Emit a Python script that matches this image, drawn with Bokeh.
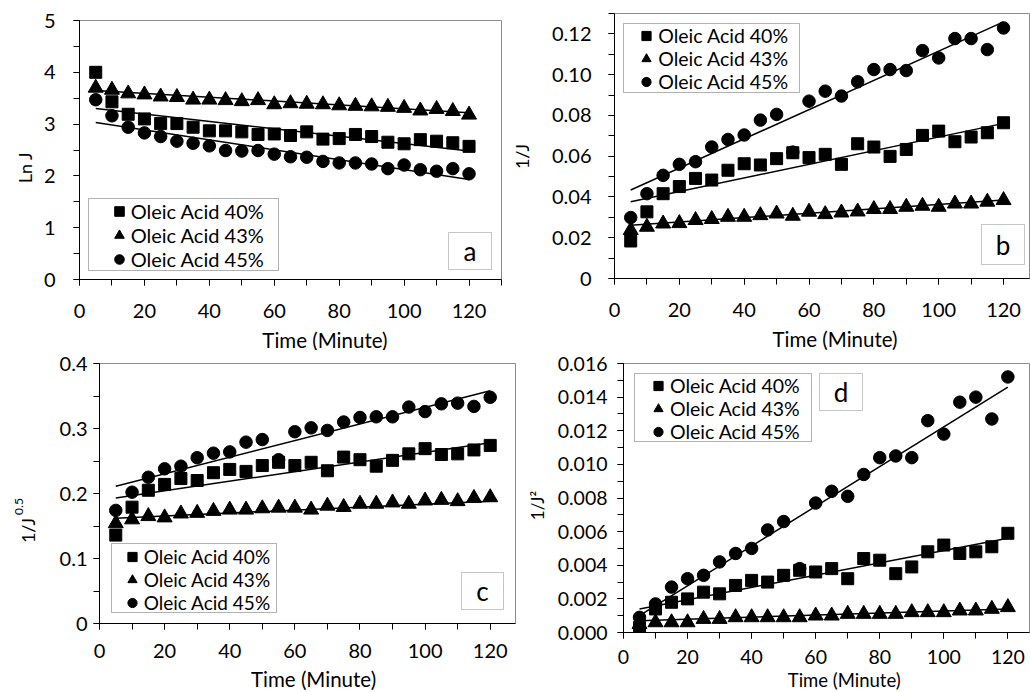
import numpy as np
from math import pi
from bokeh.plotting import figure
from bokeh.layouts import column, row
from bokeh.models import Range1d, FixedTicker, Legend, LegendItem, Label, BoxAnnotation
from bokeh.embed import file_html
from bokeh.resources import INLINE

FONT = "Lato"

# ---------------- data ----------------
time_min = [5, 10, 15, 20, 25, 30, 35, 40, 45, 50, 55, 60,
            65, 70, 75, 80, 85, 90, 95, 100, 105, 110, 115, 120]
series_labels = ["Oleic Acid 40%", "Oleic Acid 43%", "Oleic Acid 45%"]

# panel a : Ln J
lnJ_40 = [4.00, 3.43, 3.19, 3.10, 3.01, 3.01, 2.94, 2.87, 2.87, 2.85, 2.80, 2.81,
          2.78, 2.85, 2.71, 2.72, 2.80, 2.76, 2.65, 2.62, 2.70, 2.67, 2.64, 2.57]
lnJ_43 = [3.70, 3.66, 3.59, 3.57, 3.53, 3.52, 3.47, 3.47, 3.46, 3.44, 3.46, 3.38,
          3.40, 3.39, 3.38, 3.36, 3.35, 3.34, 3.33, 3.31, 3.26, 3.29, 3.25, 3.18]
lnJ_45 = [3.47, 3.16, 2.94, 2.83, 2.76, 2.67, 2.63, 2.58, 2.49, 2.48, 2.49, 2.42,
          2.37, 2.36, 2.28, 2.25, 2.25, 2.23, 2.14, 2.21, 2.12, 2.09, 2.14, 2.04]
lnJ_trend = {"40": [3.30, 2.48], "43": [3.65, 3.22], "45": [3.03, 1.93]}

# panel b : 1/J
invJ_40 = [0.0184, 0.0327, 0.0416, 0.0451, 0.0491, 0.0483, 0.0531, 0.0563, 0.0557, 0.0588, 0.0617, 0.0593,
           0.0609, 0.0560, 0.0661, 0.0645, 0.0599, 0.0633, 0.0702, 0.0723, 0.0671, 0.0694, 0.0715, 0.0764]
invJ_43 = [0.0237, 0.0253, 0.0269, 0.0271, 0.0286, 0.0291, 0.0302, 0.0302, 0.0310, 0.0318, 0.0307, 0.0327,
           0.0315, 0.0323, 0.0328, 0.0340, 0.0340, 0.0351, 0.0356, 0.0351, 0.0367, 0.0367, 0.0376, 0.0384]
invJ_45 = [0.0299, 0.0416, 0.0506, 0.0560, 0.0573, 0.0645, 0.0682, 0.0704, 0.0777, 0.0805, 0.0620, 0.0870,
           0.0919, 0.0895, 0.0965, 0.1025, 0.1025, 0.1020, 0.1118, 0.1082, 0.1177, 0.1177, 0.1123, 0.1229]
invJ_trend = {"40": [0.0376, 0.0761], "43": [0.0261, 0.0385], "45": [0.0434, 0.1259]}

# panel c : 1/J^0.5
invSqrtJ_40 = [0.136, 0.179, 0.205, 0.214, 0.223, 0.220, 0.232, 0.237, 0.234, 0.243, 0.248, 0.243,
               0.248, 0.235, 0.256, 0.252, 0.242, 0.251, 0.261, 0.269, 0.260, 0.261, 0.267, 0.274]
invSqrtJ_43 = [0.154, 0.160, 0.165, 0.163, 0.169, 0.170, 0.173, 0.175, 0.175, 0.177, 0.178, 0.178,
               0.175, 0.181, 0.179, 0.184, 0.184, 0.186, 0.184, 0.189, 0.190, 0.188, 0.193, 0.194]
invSqrtJ_45 = [0.174, 0.202, 0.225, 0.238, 0.242, 0.255, 0.262, 0.264, 0.279, 0.283, 0.252, 0.295,
               0.301, 0.297, 0.310, 0.317, 0.318, 0.318, 0.333, 0.326, 0.338, 0.339, 0.334, 0.348]
invSqrtJ_trend = {"40": [0.193, 0.278], "43": [0.162, 0.188], "45": [0.211, 0.358]}

# panel d : 1/J^2
invJ2_40 = [0.0003, 0.0014, 0.0018, 0.0020, 0.0024, 0.0023, 0.0028, 0.0031, 0.0030, 0.0034, 0.0037, 0.0036,
            0.0038, 0.0032, 0.0044, 0.0043, 0.0035, 0.0039, 0.0048, 0.0052, 0.0047, 0.0048, 0.0051, 0.0059]
invJ2_43 = [0.0005, 0.0006, 0.0006, 0.0006, 0.0008, 0.0008, 0.0009, 0.0009, 0.0009, 0.0009, 0.0009, 0.0010,
            0.0010, 0.0011, 0.0011, 0.0011, 0.0011, 0.0012, 0.0012, 0.0012, 0.0013, 0.0013, 0.0014, 0.0015]
invJ2_45 = [0.0009, 0.0017, 0.0027, 0.0032, 0.0034, 0.0042, 0.0047, 0.0050, 0.0061, 0.0066, 0.0038, 0.0077,
            0.0084, 0.0081, 0.0094, 0.0104, 0.0105, 0.0104, 0.0126, 0.0118, 0.0137, 0.0140, 0.0127, 0.0152]
invJ2_trend = {"40": [0.0014, 0.0056], "43": [0.0007, 0.0014], "45": [0.0010, 0.0146]}

trend_x = [5, 120]

# tick labels
x_ticks = [0, 20, 40, 60, 80, 100, 120]
x_tick_labels = ["0", "20", "40", "60", "80", "100", "120"]
x_minor_ticks = [0, 10, 20, 30, 40, 50, 60, 70, 80, 90, 100, 110, 120, 130]

a_y_ticks = [0, 1, 2, 3, 4, 5]
a_y_labels = ["0", "1", "2", "3", "4", "5"]
b_y_ticks = [0, 0.02, 0.04, 0.06, 0.08, 0.10, 0.12]
b_y_labels = ["0", "0.02", "0.04", "0.06", "0.08", "0.10", "0.12"]
c_y_ticks = [0, 0.1, 0.2, 0.3, 0.4]
c_y_labels = ["0", "0.1", "0.2", "0.3", "0.4"]
d_y_ticks = [0, 0.002, 0.004, 0.006, 0.008, 0.010, 0.012, 0.014, 0.016]
d_y_labels = ["0.000", "0.002", "0.004", "0.006", "0.008", "0.010", "0.012", "0.014", "0.016"]

x_title = "Time (Minute)"

# ---------------- layout (page pixel geometry) ----------------
ROW1_H = 350
ROW2_H = 692 - ROW1_H

panels = [
    dict(key="a", ox=40, oy=0, W=462, H=327, FL=79, FT=20, FW=422, FH=259, xend=130, yend=5,
         yminor_step=0.5, yt=a_y_ticks, yl=a_y_labels,
         series=[lnJ_40, lnJ_43, lnJ_45], trend=lnJ_trend,
         ystand=18, xstand=18, tick_fs="20px",
         leg=dict(box=(88, 278, 198, 270), m=30.7, row1=211, gh=24, fs="20px"),
         box=(448, 491, 232, 269), boxtxt=(469.5, 250)),
    dict(key="b", ox=535, oy=0, W=495, H=327, FL=614, FT=13, FW=415, FH=265, xend=415 / 3.242, yend=0.13,
         yminor_step=0.01, yt=b_y_ticks, yl=b_y_labels,
         series=[invJ_40, invJ_43, invJ_45], trend=invJ_trend,
         ystand=17, xstand=18, tick_fs="20px",
         leg=dict(box=(623, 799, 23, 92), m=23.3, row1=35, gh=23, fs="19.5px"),
         box=(981, 1024, 224, 264), boxtxt=(1002.5, 244)),
    dict(key="c", ox=40, oy=ROW1_H, W=480, H=316, FL=99, FT=363, FW=416, FH=260, xend=416 / 3.256, yend=0.4,
         yminor_step=0.05, yt=c_y_ticks, yl=c_y_labels,
         series=[invSqrtJ_40, invSqrtJ_43, invSqrtJ_45], trend=invSqrtJ_trend,
         ystand=6, xstand=14, tick_fs="20px",
         leg=dict(box=(111, 276, 543, 612), m=20.7, row1=556, gh=23, fs="19px"),
         box=(461, 503, 572, 609), boxtxt=(482, 590)),
    dict(key="d", ox=550, oy=ROW1_H, W=480, H=320, FL=623, FT=363, FW=406, FH=269, xend=406 / 3.203, yend=0.016,
         yminor_step=0.001, yt=d_y_ticks, yl=d_y_labels,
         series=[invJ2_40, invJ2_43, invJ2_45], trend=invJ2_trend,
         ystand=10, xstand=11, tick_fs="19.5px",
         leg=dict(box=(634, 811, 373, 441), m=24, row1=385, gh=23, fs="19.5px"),
         box=(819, 862, 373, 410), boxtxt=(840.5, 391)),
]

# text strips: (text, page x, page y, font size, angle)
ytitle_strips = [
    dict(ox=0, oy=0, W=40, H=ROW1_H, texts=[("Ln J", 24.5, 167, "18px", pi / 2)]),
    dict(ox=502, oy=0, W=33, H=ROW1_H, texts=[("1/J", 521, 156, "18px", pi / 2)]),
    dict(ox=0, oy=ROW1_H, W=40, H=ROW2_H, texts=[("1/J", 27, 530, "18px", pi / 2),
                                                 ("0.5", 18.5, 506, "12px", pi / 2)]),
    dict(ox=520, oy=ROW1_H, W=30, H=ROW2_H, texts=[("1/J\u00b2", 537, 505, "17px", pi / 2)]),
]
xtitle_strips = [
    dict(ox=40, oy=327, W=462, H=23, texts=[(x_title, 308.7, 339, "20.5px", 0)]),
    dict(ox=535, oy=327, W=495, H=23, texts=[(x_title, 798, 338, "20.5px", 0)]),
    dict(ox=40, oy=666, W=480, H=26, texts=[(x_title, 287, 678, "20.5px", 0)]),
    dict(ox=550, oy=670, W=480, H=22, texts=[(x_title, 811, 679.5, "18.5px", 0)]),
]

markers = ["square", "triangle", "circle"]
msizes = [12, 15, 12.5]
draw_order = [2, 1, 0]
LEG_GW = 24


def make_strip(s):
    f = figure(width=s["W"], height=s["H"], output_backend="svg", toolbar_location=None,
               x_range=Range1d(0, s["W"]), y_range=Range1d(0, s["H"]),
               min_border=0, x_axis_location=None, y_axis_location=None,
               outline_line_color=None, background_fill_color="white", border_fill_color="white")
    f.grid.visible = False
    for txt, px, py, fs, ang in s["texts"]:
        f.add_layout(Label(x=px - s["ox"], y=s["H"] - (py - s["oy"]), text=txt, angle=ang,
                           text_align="center", text_baseline="middle",
                           text_font=FONT, text_font_size=fs, text_color="black"))
    return f


def make_panel(c):
    left = c["FL"] - c["ox"]
    top = c["FT"] - c["oy"]
    right = c["W"] - left - c["FW"]
    bottom = c["H"] - top - c["FH"]
    p = figure(width=c["W"], height=c["H"], output_backend="svg", toolbar_location=None,
               x_range=Range1d(0, c["xend"]), y_range=Range1d(0, c["yend"]),
               min_border_left=left, min_border_right=right,
               min_border_top=top, min_border_bottom=bottom,
               background_fill_color="white", border_fill_color="white",
               outline_line_color="#8c8c8c", outline_line_width=1)
    p.xgrid.visible = False
    p.ygrid.visible = False
    frame_bottom = c["FT"] + c["FH"]

    def px2d(px, py):
        return ((px - c["FL"]) * c["xend"] / c["FW"],
                (frame_bottom - py) * c["yend"] / c["FH"])

    yminor = list(np.arange(0, c["yend"] + 1e-12, c["yminor_step"]))
    p.xaxis.ticker = FixedTicker(ticks=x_ticks, minor_ticks=x_minor_ticks)
    p.yaxis.ticker = FixedTicker(ticks=c["yt"], minor_ticks=yminor)
    p.xaxis.major_label_overrides = {v: s for v, s in zip(x_ticks, x_tick_labels)}
    p.yaxis.major_label_overrides = {v: s for v, s in zip(c["yt"], c["yl"])}
    for ax in (p.xaxis[0], p.yaxis[0]):
        ax.axis_line_color = "black"
        ax.axis_line_width = 1
        ax.major_tick_line_color = "black"
        ax.minor_tick_line_color = "black"
        ax.major_tick_in = 0
        ax.major_tick_out = 6
        ax.minor_tick_in = 0
        ax.minor_tick_out = 6
        ax.major_label_text_font = FONT
        ax.major_label_text_font_size = c["tick_fs"]
        ax.major_label_text_color = "black"
    p.xaxis.major_label_standoff = c["xstand"]
    p.yaxis.major_label_standoff = c["ystand"]

    rends = [None, None, None]
    for i in draw_order:
        rends[i] = p.scatter(time_min, c["series"][i], marker=markers[i], size=msizes[i],
                             fill_color="black", line_color="black")
    for k in ["40", "43", "45"]:
        p.line(trend_x, c["trend"][k], line_color="black", line_width=1.5)

    # legend (border drawn separately so its inner spacing can match)
    lg = c["leg"]
    bl, br, bt, bb = lg["box"]
    leg_left = bl + lg["m"] - LEG_GW / 2
    leg_top = lg["row1"] - lg["gh"] / 2
    leg_bottom = leg_top + 3 * lg["gh"]
    legend = Legend(items=[LegendItem(label=series_labels[i], renderers=[rends[i]]) for i in range(3)],
                    location=(leg_left - c["FL"], frame_bottom - leg_bottom),
                    margin=0, padding=0, spacing=0,
                    glyph_width=LEG_GW, glyph_height=lg["gh"], label_height=lg["gh"],
                    label_standoff=0,
                    label_text_font=FONT, label_text_font_size=lg["fs"], label_text_color="black",
                    border_line_alpha=0, background_fill_alpha=0)
    p.add_layout(legend, "center")
    x0, y0 = px2d(bl, bb)
    x1, y1 = px2d(br, bt)
    p.add_layout(BoxAnnotation(left=x0, right=x1, bottom=y0, top=y1,
                               fill_alpha=0, line_color="black", line_width=1))

    # panel letter box
    bx0, by0 = px2d(c["box"][0], c["box"][3])
    bx1, by1 = px2d(c["box"][1], c["box"][2])
    p.add_layout(BoxAnnotation(left=bx0, right=bx1, bottom=by0, top=by1,
                               fill_alpha=0, line_color="#404040", line_width=1))
    tx, ty = px2d(*c["boxtxt"])
    p.add_layout(Label(x=tx, y=ty, text=c["key"], text_align="center", text_baseline="middle",
                       text_font=FONT, text_font_size="26px", text_color="black"))
    return p


figs = [make_panel(c) for c in panels]
ys = [make_strip(s) for s in ytitle_strips]
xs = [make_strip(s) for s in xtitle_strips]
layout = column(row(ys[0], column(figs[0], xs[0]), ys[1], column(figs[1], xs[1])),
                row(ys[2], column(figs[2], xs[2]), ys[3], column(figs[3], xs[3])))

open("out.html", "w").write(file_html(layout, INLINE))
